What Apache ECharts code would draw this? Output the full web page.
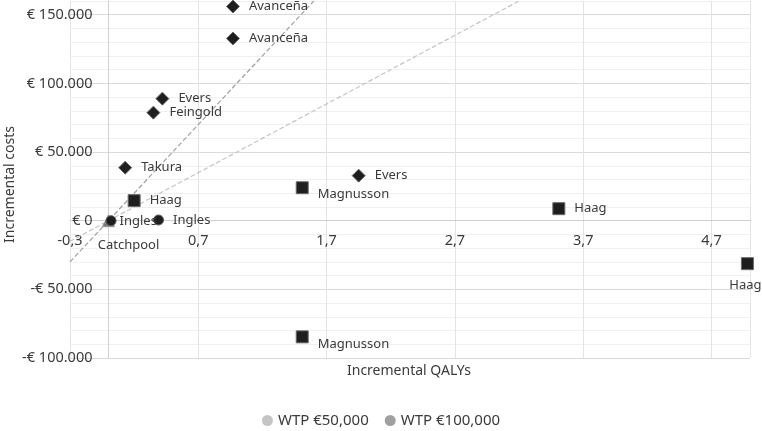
<!DOCTYPE html>
<html>
<head>
<meta charset="utf-8">
<script src="https://cdn.jsdelivr.net/npm/echarts@6/dist/echarts.min.js"></script>
<style>
  html, body { margin: 0; padding: 0; background: #fff; }
  #main { width: 762px; height: 431px; }
</style>
</head>
<body>
<div id="main"></div>
<script>
// studies plotted as diamonds
const diamondNames = ['Avanceña', 'Avanceña', 'Evers', 'Feingold', 'Takura', 'Evers'];
const diamondX = [0.97, 0.97, 0.42, 0.35, 0.13, 1.95];
const diamondY = [156000, 132700, 88900, 78700, 38600, 32800];

// studies plotted as squares
const squareNames = ['Haag', 'Magnusson', 'Haag', 'Haag', 'Magnusson'];
const squareX = [0.2, 1.51, 3.51, 4.98, 1.51];
const squareY = [14600, 24000, 8750, -31300, -84600];

// studies plotted as circles
const circleNames = ['Ingles', 'Ingles'];
const circleX = [0.39, 0.02];
const circleY = [500, 0];

// study plotted as triangle
const triangleNames = ['Catchpool'];
const triangleX = [0.0];
const triangleY = [0];

// willingness-to-pay threshold lines (visible end points)
const wtpNames = ['WTP €50,000', 'WTP €100,000'];
const wtp50 = [[-0.3, -15000], [3.2, 160000]];
const wtp100 = [[-0.3, -30000], [1.6, 160000]];

// axis ranges
const xMin = -0.3, xMax = 5, xStep = 1;
const yMin = -100000, yMax = 160000, yStep = 10000, yLabelStep = 50000;

const FONT = 'Noto Sans';
const TXT = '#3a3a3a';

// grid box in px
const W = 762, H = 431;
const gridL = 70, gridR = 12, gridT = 1, gridB = 73;
// axes sit on the zero lines, so shift them in from the grid edges
const yAxisShift = (0 - xMin) / (xMax - xMin) * (W - gridL - gridR);
const xAxisShift = (0 - yMin) / (yMax - yMin) * (H - gridT - gridB);

// label placement per point (layout only)
const diamondLabelPos = [['right', [0, 0]], ['right', [0, 0]], ['right', [0, 0]], ['right', [0, 0]], ['right', [0, 0]], ['right', [0, 0]]];
const squareLabelPos = [['right', [0, 0]], ['right', [0, 7]], ['right', [0, 0]], ['bottom', [-2, 0]], ['right', [0, 7]]];
const circleLabelPos = [['right', [0, 0]], ['right', [-6, 1]]];
const triangleLabelPos = [['bottom', [20, 3]]];

function buildPoints(names, xs, ys, pos) {
    return names.map((n, i) => ({
        name: n,
        value: [xs[i], ys[i]],
        label: { position: pos[i][0], offset: pos[i][1] }
    }));
}

function euro(v) {
    const abs = Math.abs(v);
    const s = abs.toFixed(0).replace(/\B(?=(\d{3})+(?!\d))/g, '.');
    return (v < 0 ? '-' : '') + '€ ' + s;
}

const markerLabel = {
    show: true,
    formatter: '{b}',
    color: TXT,
    fontFamily: FONT,
    fontSize: 13,
    distance: 9
};

const chart = echarts.init(document.getElementById('main'));

const option = {
    animation: false,
    textStyle: { fontFamily: FONT },
    grid: { left: gridL, right: gridR, top: gridT, bottom: gridB, containLabel: false, outerBoundsMode: 'none' },
    legend: {
        data: wtpNames,
        bottom: -2,
        left: 'center',
        icon: 'circle',
        itemWidth: 11,
        itemHeight: 11,
        itemGap: 16,
        textStyle: { color: TXT, fontSize: 15, fontFamily: FONT }
    },
    xAxis: {
        type: 'value',
        min: xMin,
        max: xMax,
        interval: xStep,
        position: 'bottom',
        offset: -xAxisShift,
        axisLine: { onZero: false, lineStyle: { color: '#d0d0d0' } },
        axisTick: { show: false },
        axisLabel: {
            color: TXT,
            fontSize: 14.5,
            margin: 13,
            showMaxLabel: false,
            formatter: v => v.toFixed(1).replace('.', ',')
        },
        splitLine: { show: true, lineStyle: { color: '#e4e4e4' } }
    },
    yAxis: {
        type: 'value',
        min: yMin,
        max: yMax,
        interval: yStep,
        position: 'left',
        offset: -yAxisShift,
        axisLine: { show: true, onZero: false, lineStyle: { color: '#d0d0d0' } },
        axisTick: { show: false },
        axisLabel: {
            color: TXT,
            fontSize: 14.5,
            margin: 16,
            formatter: v => (Math.round(v) % yLabelStep === 0 ? euro(v) : '')
        },
        splitLine: {
            show: true,
            lineStyle: { color: ['#dadada', '#f0f0f0', '#f0f0f0', '#f0f0f0', '#f0f0f0'] }
        }
    },
    graphic: [
        {
            type: 'text',
            left: 3,
            top: 126,
            rotation: Math.PI / 2,
            style: { text: 'Incremental costs', fill: TXT, font: '14px "Noto Sans"' }
        },
        {
            type: 'text',
            left: 347,
            top: 364,
            style: { text: 'Incremental QALYs', fill: TXT, font: '14px "Noto Sans"' }
        }
    ],
    series: [
        {
            name: wtpNames[0],
            type: 'line',
            data: wtp50,
            symbol: 'none',
            color: '#c4c4c4',
            lineStyle: { type: 'dashed', width: 1.2, color: '#c4c4c4' },
            z: 1
        },
        {
            name: wtpNames[1],
            type: 'line',
            data: wtp100,
            symbol: 'none',
            color: '#a0a0a0',
            lineStyle: { type: 'dashed', width: 1.2, color: '#a0a0a0' },
            z: 1
        },
        {
            name: 'triangles',
            type: 'scatter',
            symbol: 'triangle',
            symbolSize: 12,
            itemStyle: { color: '#7a7a7a', borderColor: '#9a9a9a', borderWidth: 1, opacity: 1 },
            label: markerLabel,
            data: buildPoints(triangleNames, triangleX, triangleY, triangleLabelPos),
            z: 3
        },
        {
            name: 'circles',
            type: 'scatter',
            symbol: 'circle',
            symbolSize: 10,
            itemStyle: { color: '#1e1e1e', borderColor: '#5a5a5a', borderWidth: 1, opacity: 1 },
            label: markerLabel,
            data: buildPoints(circleNames, circleX, circleY, circleLabelPos),
            z: 4
        },
        {
            name: 'squares',
            type: 'scatter',
            symbol: 'rect',
            symbolSize: 12,
            itemStyle: { color: '#1e1e1e', borderColor: '#6a6a6a', borderWidth: 1, opacity: 1 },
            label: markerLabel,
            data: buildPoints(squareNames, squareX, squareY, squareLabelPos),
            z: 4
        },
        {
            name: 'diamonds',
            type: 'scatter',
            symbol: 'diamond',
            symbolSize: 13,
            itemStyle: { color: '#1e1e1e', borderColor: '#6a6a6a', borderWidth: 1, opacity: 1 },
            label: markerLabel,
            data: buildPoints(diamondNames, diamondX, diamondY, diamondLabelPos),
            z: 4
        }
    ]
};

chart.setOption(option);
window.addEventListener('resize', () => chart.resize());
</script>
</body>
</html>
